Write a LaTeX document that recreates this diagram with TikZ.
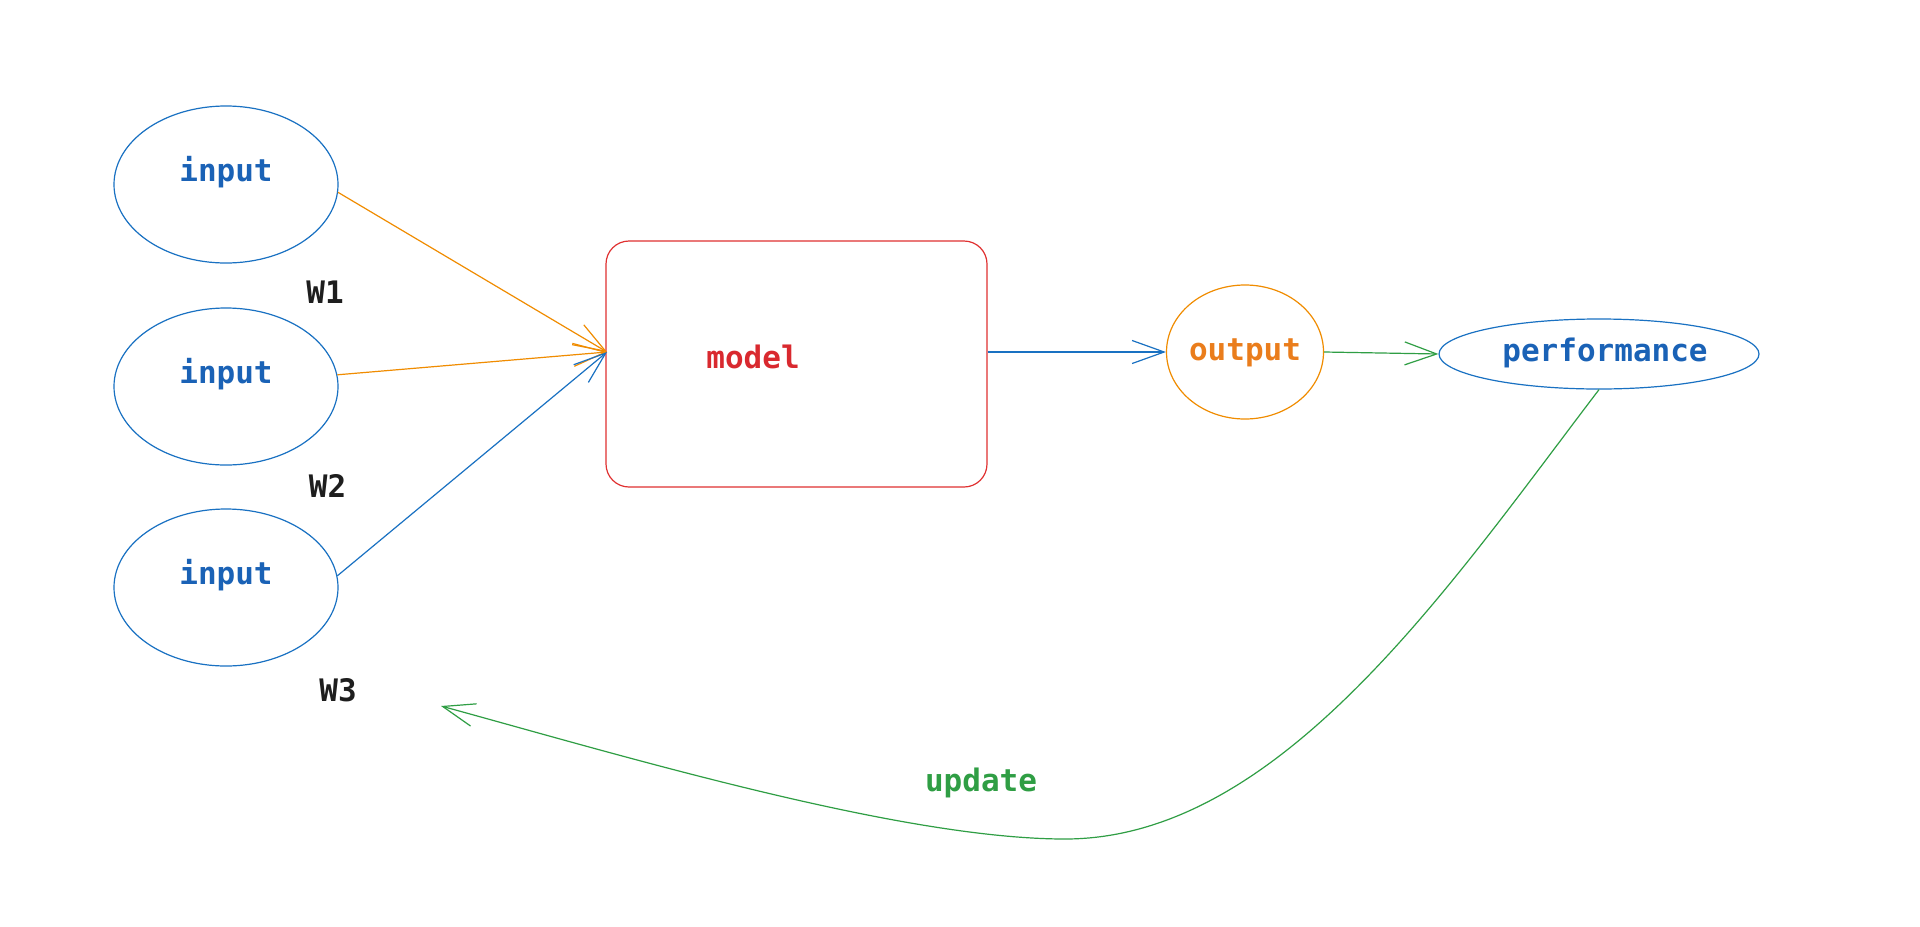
\documentclass[tikz,border=0pt]{standalone}
\usepackage{fontspec}
\setmonofont{DejaVu Sans Mono}
\usetikzlibrary{shapes.geometric,arrows.meta}

\definecolor{strokeblue}{HTML}{1971C2}
\definecolor{textblue}{HTML}{1A62B6}
\definecolor{strokered}{HTML}{E03131}
\definecolor{textred}{HTML}{D9292F}
\definecolor{strokeorange}{HTML}{F08C00}
\definecolor{textorange}{HTML}{EA7D1C}
\definecolor{strokegreen}{HTML}{2F9E44}
\definecolor{textblack}{HTML}{1E1E1E}

\tikzset{
  lbl/.style={font=\ttfamily\bfseries\fontsize{15.5}{18}\selectfont, inner sep=0pt, anchor=base},
  oval/.style={ellipse, draw, line width=0.6pt, inner sep=0pt},
  barb/.style={line width=0.6pt, -{Straight Barb[length=16pt,width=11.5pt]}},
}

\begin{document}
\begin{tikzpicture}[x=0.5pt,y=-0.5pt]
  \fill[white] (0,0) rectangle (1920,926);
  \useasboundingbox (0,0) rectangle (1920,926);

  % input nodes
  \node[oval, strokeblue, minimum width=112pt, minimum height=78.5pt] (in1) at (226,184.5) {};
  \node[oval, strokeblue, minimum width=112pt, minimum height=78.5pt] (in2) at (226,386.5) {};
  \node[oval, strokeblue, minimum width=112pt, minimum height=78.5pt] (in3) at (226,587.5) {};
  \node[lbl, textblue] (in1t) at (226,181.7) {input};
  \node[lbl, textblue] (in2t) at (226,383.3) {input};
  \node[lbl, textblue] (in3t) at (226,584) {input};

  % weights
  \node[lbl, textblack] (w1) at (325,303.3) {W1};
  \node[lbl, textblack] (w2) at (327.5,497.3) {W2};
  \node[lbl, textblack] (w3) at (338,701.7) {W3};

  % model
  \node[draw, strokered, line width=0.6pt, rounded corners=11.5pt,
        minimum width=190.5pt, minimum height=123pt, inner sep=0pt] (model) at (796.5,364) {};
  \node[lbl, textred] (modelt) at (753,368.3) {model};
  \coordinate (mtip) at (607,352);

  % output and performance
  \node[oval, strokeorange, minimum width=78.5pt, minimum height=67pt] (out) at (1245,352) {};
  \node[lbl, textorange] (outt) at (1245,360) {output};
  \node[oval, strokeblue, minimum width=160pt, minimum height=35pt] (perf) at (1599,354) {};
  \node[lbl, textblue] (perft) at (1605,361.7) {performance};

  % connectors into the model
  \draw[barb, strokeorange] (in1.-4) -- (mtip);
  \draw[barb, strokeorange] (in2.6) -- (mtip);
  \draw[barb, strokeblue] (in3.6) -- (mtip);

  % forward path
  \draw[barb, strokeblue] (model.east |- out.west) -- (out.west);
  \draw[barb, strokegreen] (out.east) -- (perf.west);

  % feedback
  \coordinate (updtip) at (441,706);
  \draw[barb, strokegreen] (perf.south)
     .. controls (1450,585) and (1280,839) .. (1065,839)
     .. controls (900,839) and (620,755) .. (updtip);
  \node[lbl, strokegreen] (upd) at (981,791.7) {update};
\end{tikzpicture}
\end{document}
